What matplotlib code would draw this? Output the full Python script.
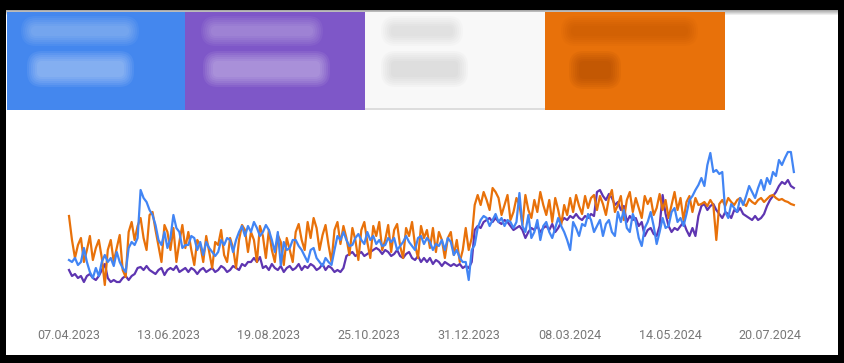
import numpy as np
import pandas as pd
import matplotlib
matplotlib.use("Agg")
import matplotlib.pyplot as plt
import matplotlib.dates as mdates
from matplotlib.patches import Rectangle, FancyBboxPatch

# ---- data: relative levels (y-axis hidden in the original) ----
start_date = "2023-04-07"
step_days = 2

clicks_px = [
    260, 262, 258, 265, 262, 248, 262, 272, 278, 268,
    276, 262, 255, 262, 258, 266, 252, 262, 268, 272,
    248, 242, 245, 238, 190, 198, 202, 210, 215, 225,
    240, 245, 232, 248, 238, 215, 228, 232, 248, 245,
    245, 236, 238, 250, 242, 255, 242, 248, 252, 256,
    252, 240, 245, 238, 240, 252, 240, 232, 226, 236,
    226, 232, 222, 228, 236, 232, 225, 230, 240, 252,
    232, 265, 242, 250, 248, 240, 240, 246, 250, 256,
    262, 250, 248, 258, 262, 266, 258, 262, 265, 250,
    236, 240, 232, 240, 246, 245, 238, 234, 240, 244,
    232, 240, 236, 244, 240, 246, 245, 238, 242, 238,
    250, 246, 242, 236, 242, 246, 250, 238, 236, 244,
    238, 242, 250, 244, 246, 240, 250, 238, 242, 255,
    250, 258, 262, 262, 280, 250, 245, 228, 220, 216,
    218, 226, 220, 214, 222, 218, 226, 220, 222, 228,
    222, 193, 226, 232, 215, 238, 232, 220, 240, 226,
    222, 232, 238, 228, 218, 226, 232, 240, 250, 222,
    228, 236, 224, 226, 214, 220, 232, 226, 220, 236,
    224, 220, 232, 236, 212, 222, 210, 228, 232, 214,
    222, 238, 246, 228, 222, 212, 226, 244, 232, 218,
    228, 226, 212, 208, 222, 218, 226, 214, 200, 196,
    190, 185, 178, 186, 165, 153, 172, 170, 174, 172,
    212, 218, 204, 208, 212, 198, 205, 196, 186, 192,
    198, 188, 180, 190, 178, 184, 172, 176, 160, 165,
    158, 152, 152, 172]
impressions_px = [
    270, 276, 274, 278, 276, 282, 276, 274, 278, 280,
    276, 270, 264, 278, 282, 280, 282, 282, 278, 276,
    280, 276, 274, 268, 267, 270, 266, 270, 272, 274,
    270, 268, 275, 270, 268, 270, 266, 272, 270, 268,
    272, 268, 270, 274, 270, 268, 272, 270, 268, 272,
    270, 266, 268, 272, 270, 266, 268, 270, 264, 266,
    262, 262, 258, 262, 257, 268, 266, 270, 264, 268,
    270, 266, 272, 268, 266, 270, 268, 264, 270, 266,
    268, 264, 266, 270, 268, 264, 270, 266, 268, 272,
    270, 272, 268, 256, 254, 252, 256, 254, 252, 256,
    254, 252, 250, 248, 250, 254, 250, 252, 256, 254,
    250, 256, 258, 254, 252, 258, 260, 256, 262, 258,
    262, 258, 264, 260, 262, 266, 262, 264, 266, 264,
    266, 264, 268, 266, 268, 262, 230, 226, 228, 222,
    220, 218, 222, 218, 222, 224, 220, 222, 226, 230,
    228, 226, 230, 238, 232, 228, 230, 226, 232, 228,
    226, 230, 224, 232, 228, 222, 218, 220, 216, 218,
    214, 218, 220, 216, 218, 214, 216, 192, 190, 196,
    200, 194, 198, 205, 202, 210, 206, 222, 216, 220,
    218, 226, 222, 236, 230, 228, 234, 236, 226, 195,
    214, 226, 232, 228, 230, 226, 222, 230, 236, 228,
    236, 216, 206, 204, 210, 206, 204, 210, 214, 218,
    212, 214, 218, 210, 212, 208, 214, 216, 218, 220,
    216, 220, 218, 214, 206, 200, 196, 192, 186, 182,
    184, 180, 186, 188]
position_px = [
    216, 240, 258, 245, 238, 262, 250, 236, 260, 248,
    240, 258, 285, 250, 240, 262, 248, 235, 270, 277,
    232, 222, 240, 226, 218, 238, 250, 215, 212, 230,
    246, 262, 225, 232, 250, 228, 262, 242, 225, 248,
    232, 250, 265, 240, 245, 262, 236, 252, 268, 242,
    245, 230, 255, 262, 238, 248, 268, 240, 225, 230,
    252, 232, 240, 262, 226, 236, 258, 230, 250, 262,
    235, 242, 265, 238, 250, 262, 232, 224, 240, 250,
    222, 238, 218, 228, 250, 235, 225, 245, 262, 230,
    222, 244, 226, 238, 255, 228, 240, 260, 230, 222,
    242, 258, 226, 236, 222, 250, 240, 225, 252, 230,
    224, 246, 258, 228, 236, 222, 245, 258, 226, 238,
    230, 248, 228, 252, 232, 240, 258, 238, 232, 255,
    240, 262, 250, 228, 250, 238, 205, 195, 205, 192,
    200, 210, 188, 192, 198, 215, 205, 195, 220, 212,
    198, 205, 225, 195, 210, 218, 200, 212, 192, 205,
    215, 200, 222, 198, 210, 225, 205, 215, 198, 212,
    195, 206, 214, 196, 208, 198, 195, 210, 196, 204,
    215, 198, 190, 212, 205, 196, 220, 200, 192, 212,
    198, 208, 218, 196, 204, 198, 215, 208, 194, 210,
    200, 218, 205, 192, 210, 198, 220, 202, 196, 212,
    198, 205, 204, 202, 206, 200, 205, 240, 204, 200,
    206, 198, 202, 205, 200, 198, 203, 206, 199, 202,
    204, 200, 198, 202, 199, 196, 195, 198, 200, 199,
    201, 202, 204, 205]

clicks = [300 - v for v in clicks_px]
impressions = [300 - v for v in impressions_px]
position = [300 - v for v in position_px]

tick_labels = ["07.04.2023", "13.06.2023", "19.08.2023", "25.10.2023",
               "31.12.2023", "08.03.2024", "14.05.2024", "20.07.2024"]

dates = pd.date_range(start_date, periods=len(clicks), freq=f"{step_days}D")
tick_dates = pd.to_datetime(tick_labels, format="%d.%m.%Y")

BLUE = "#4285F4"
PURPLE = "#5E35B1"
ORANGE = "#E8710A"

W, H = 845, 363
fig = plt.figure(figsize=(W / 100, H / 100), dpi=100, facecolor="black")

# background layer in pixel coordinates
bg = fig.add_axes([0, 0, 1, 1], zorder=0)
bg.set_xlim(0, W)
bg.set_ylim(H, 0)
bg.axis("off")
bg.add_patch(Rectangle((6, 10), 832, 345, facecolor="white", edgecolor="none"))
for k in range(5):
    bg.add_patch(Rectangle((6, 10 + k), 832, 1, facecolor="#555555", edgecolor="none",
                           alpha=0.5 - 0.1 * k))
tiles = [(7, 185, "#4487EE"), (185, 365, "#7E57C8"), (365, 545, "#F8F8F8"), (545, 725, "#E8710A")]
for x0, x1, c in tiles:
    bg.add_patch(Rectangle((x0, 12), x1 - x0, 98, facecolor=c, edgecolor="none"))
bg.add_patch(Rectangle((365, 108), 180, 2, facecolor="#dddddd", edgecolor="none"))
# blurred tile contents (soft blobs)
blobs = [
    (32, 27, 96, 8, "white", 0.05), (38, 62, 85, 14, "white", 0.07),
    (212, 27, 100, 8, "white", 0.05), (214, 62, 105, 14, "white", 0.07),
    (392, 27, 60, 8, "#aaaaaa", 0.05), (392, 62, 65, 14, "#aaaaaa", 0.06),
    (572, 27, 115, 8, "#a04000", 0.05), (580, 62, 30, 16, "#a04000", 0.10),
]
for x, y, w, h, c, a in blobs:
    for k in range(6):
        p = 1 + 2 * k
        bg.add_patch(FancyBboxPatch((x, y), w, h, boxstyle=f"round,pad={p},rounding_size={4 + p}",
                                    facecolor=c, edgecolor="none", alpha=a))

# chart
ax = fig.add_axes([60 / W, (H - 322) / H, 745 / W, 182 / H], zorder=1)
ax.patch.set_alpha(0)
d0 = mdates.date2num(pd.Timestamp(start_date))
px_per_day = 1.4915
ax.set_xlim(d0 - 9 / px_per_day, d0 + (805 - 69) / px_per_day)
ax.set_ylim(-22, 160)

ax.plot(dates, impressions, color=PURPLE, lw=1.6, zorder=2)
ax.plot(dates, position, color=ORANGE, lw=1.6, zorder=3)
ax.plot(dates, clicks, color=BLUE, lw=1.6, zorder=4)

ax.set_xticks(tick_dates)
ax.set_xticklabels(tick_labels, family=["Roboto", "DejaVu Sans"], fontsize=9, color="#777777")
ax.tick_params(axis="x", length=0, pad=5)
ax.set_yticks([])
for s in ax.spines.values():
    s.set_visible(False)

fig.savefig("out.png", dpi=100, facecolor="black")
